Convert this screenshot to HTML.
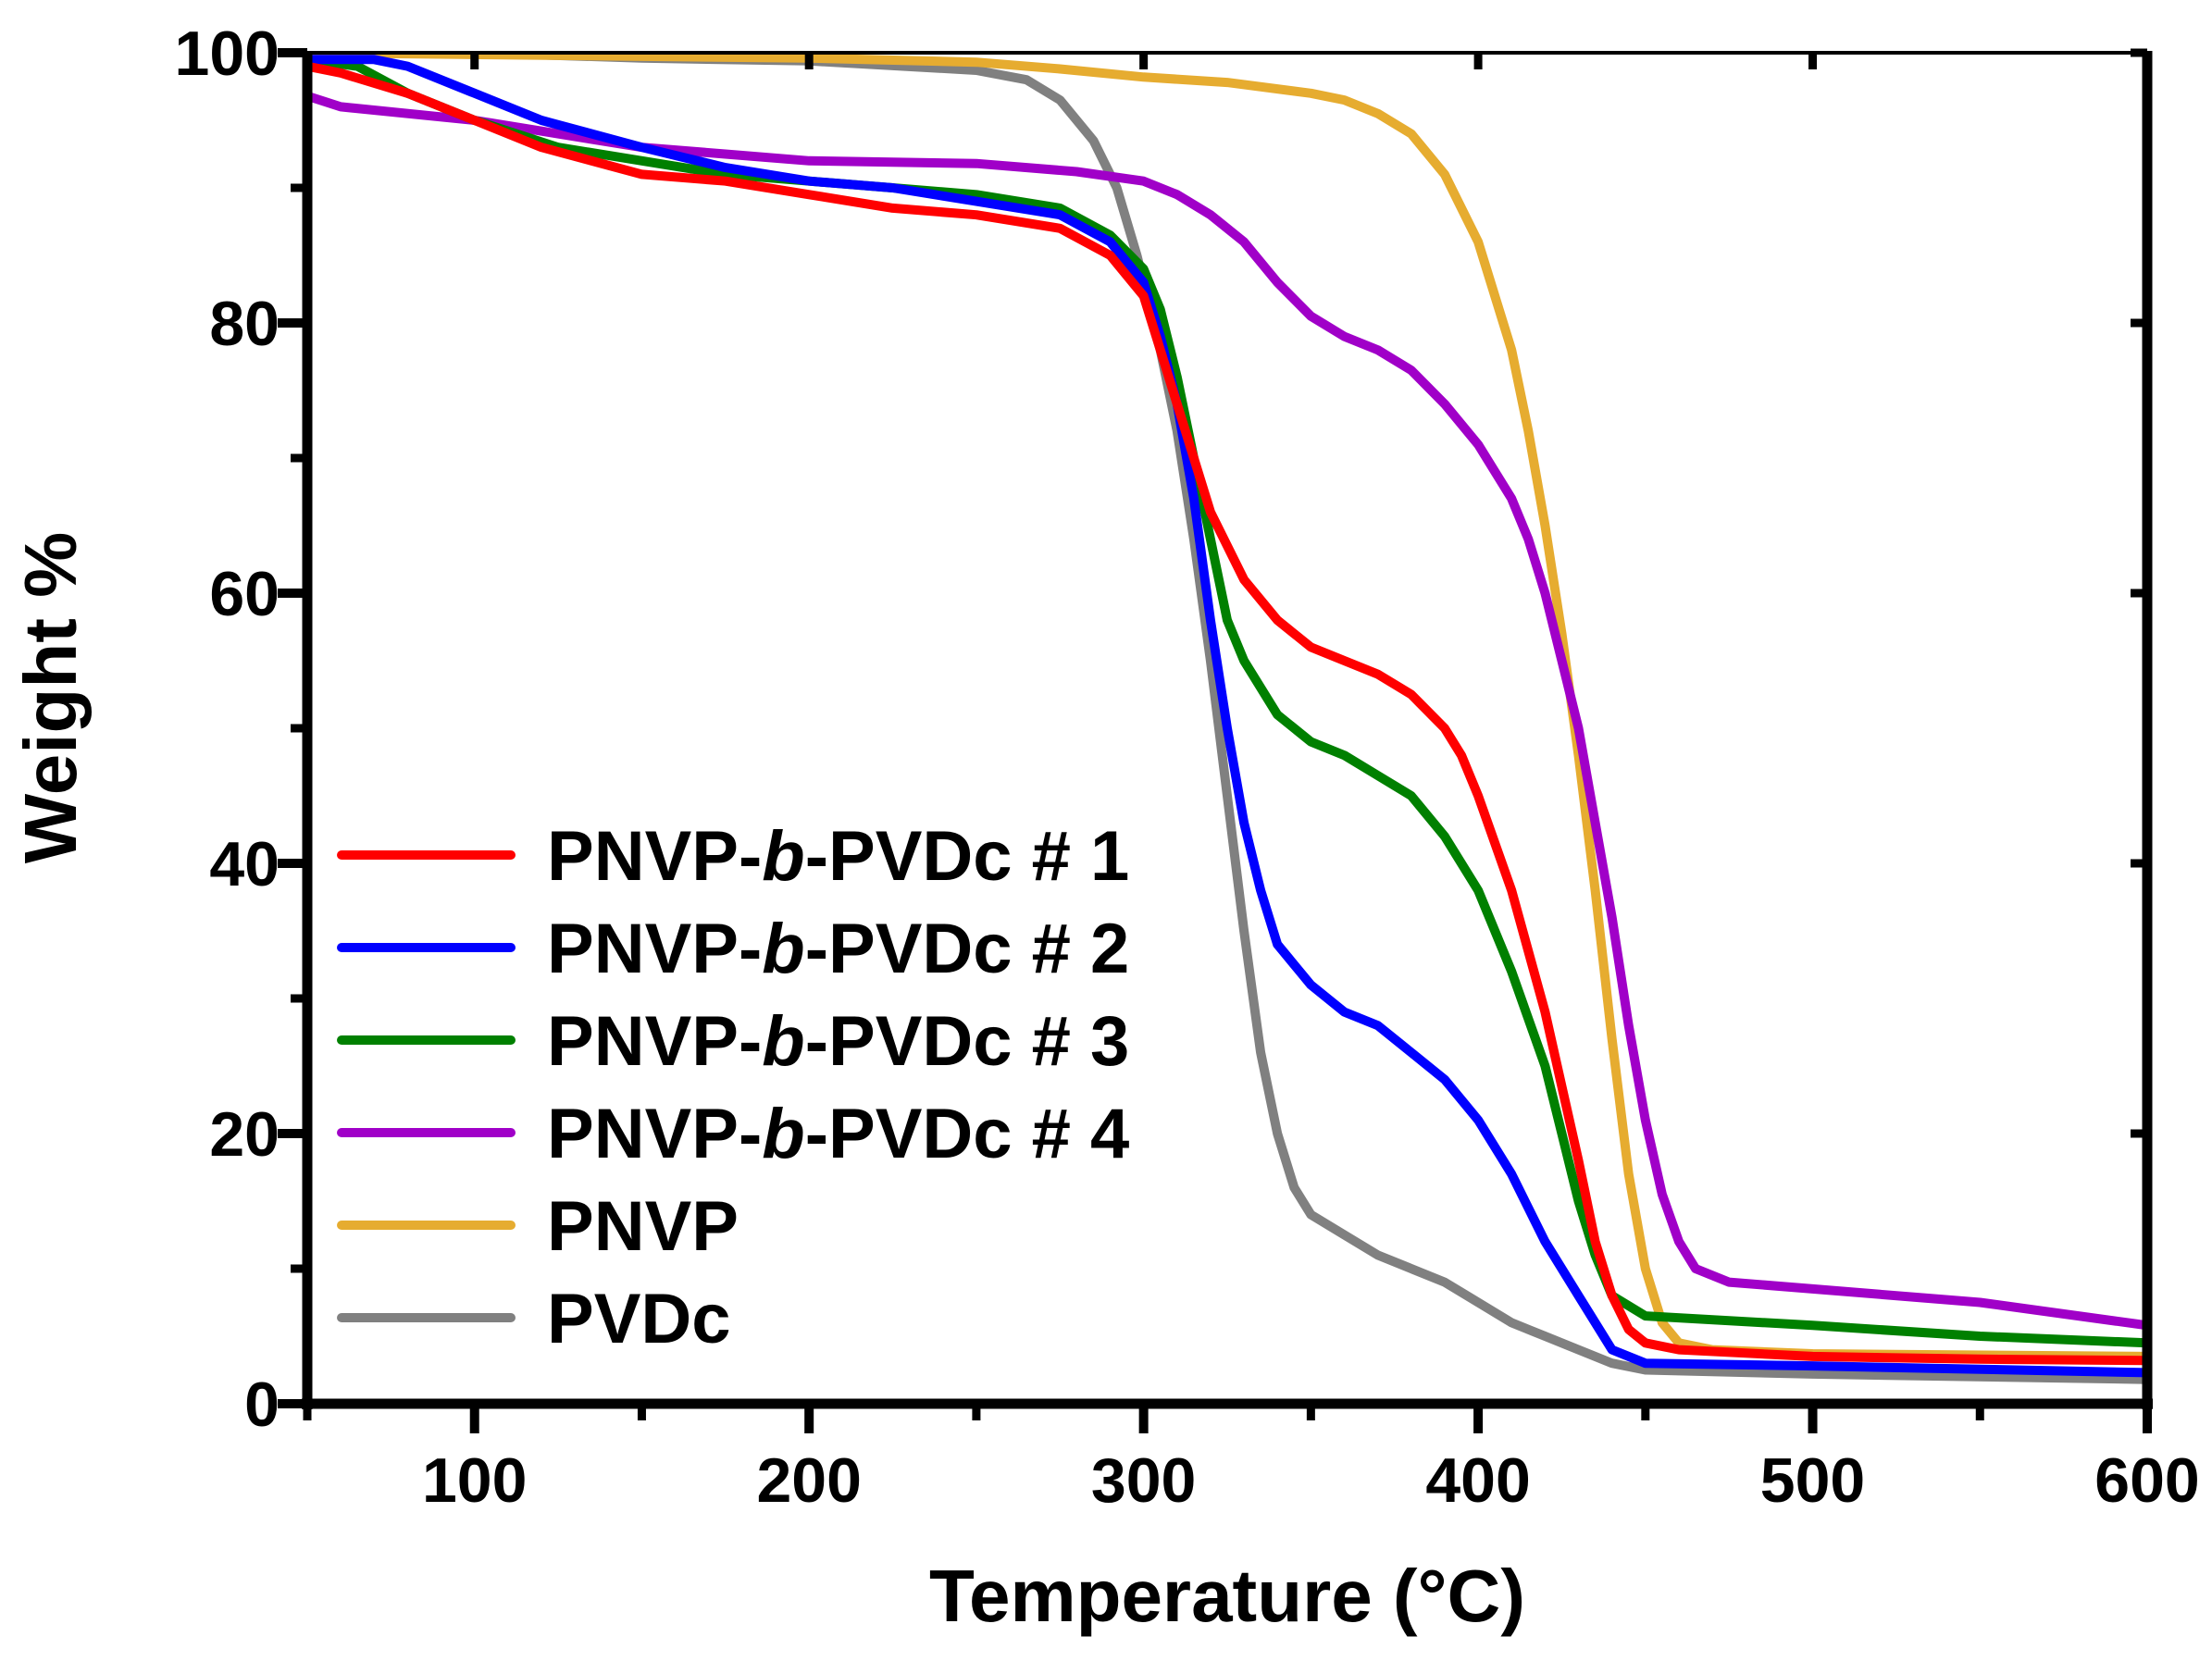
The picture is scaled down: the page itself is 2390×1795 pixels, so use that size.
<!DOCTYPE html>
<html><head><meta charset="utf-8"><style>
html,body{margin:0;padding:0;background:#fff;}
svg{display:block;font-family:"Liberation Sans",Arial,sans-serif;font-weight:bold;}
</style></head><body>
<svg id="chart" width="2390" height="1795" viewBox="0 0 2390 1795" xmlns="http://www.w3.org/2000/svg">
<defs><clipPath id="clip"><rect x="332" y="57" width="1988" height="1460"/></clipPath></defs>
<g id="curves" clip-path="url(#clip)"></g>
<g id="axes"></g>
<g id="legend"></g>
<text x="1326" y="1752" font-size="80" text-anchor="middle">Temperature (°C)</text>
<text transform="translate(82,754) rotate(-90)" font-size="80" text-anchor="middle">Weight %</text>
</svg>
<script>
const xTicks = [100,200,300,400,500,600];
const yTicks = [0,20,40,60,80,100];
const seriesNames = ["PNVP-b-PVDc # 1","PNVP-b-PVDc # 2","PNVP-b-PVDc # 3","PNVP-b-PVDc # 4","PNVP","PVDc"];
const s1 = [[50,99],[60,98.5],[80,97],[100,95],[120,93],[150,91],[175,90.5],[200,89.5],[225,88.5],[250,88],[275,87],[290,85],[300,82],[305,78],[310,74],[315,70],[320,66],[330,61],[340,58],[350,56],[360,55],[370,54],[380,52.5],[390,50],[395,48],[400,45],[410,38],[420,29],[430,18],[435,12],[440,8],[445,5.5],[450,4.5],[460,4],[500,3.5],[550,3.3],[600,3.2]];
const s2 = [[50,99.5],[70,99.5],[80,99],[100,97],[120,95],[150,93],[175,91.5],[200,90.5],[225,90],[250,89],[275,88],[290,86],[300,83],[305,79],[310,74],[315,67],[320,58],[325,50],[330,43],[335,38],[340,34],[350,31],[360,29],[370,28],[380,26],[390,24],[400,21],[410,17],[420,12],[430,8],[440,4],[450,3],[500,2.8],[600,2.3]];
const s3 = [[50,99.5],[65,99],[80,97],[100,95],[125,93],[150,92],[175,91],[200,90.5],[225,90],[250,89.5],[275,88.5],[290,86.5],[300,84],[305,81],[310,76],[315,70],[320,64],[325,58],[330,55],[340,51],[350,49],[360,48],[370,46.5],[380,45],[390,42],[400,38],[410,32],[420,25],[425,20],[430,15],[435,11],[440,8],[450,6.5],[500,5.8],[550,5],[600,4.5]];
const s4 = [[50,96.8],[60,96],[100,95],[150,93],[175,92.5],[200,92],[250,91.8],[280,91.2],[300,90.5],[310,89.5],[320,88],[330,86],[340,83],[350,80.5],[360,79],[370,78],[380,76.5],[390,74],[400,71],[410,67],[415,64],[420,60],[425,55],[430,50],[435,43],[440,36],[445,28],[450,21],[455,15.5],[460,12],[465,10],[475,9],[500,8.5],[550,7.5],[600,5.8]];
const s5 = [[50,100],[200,99.6],[250,99.3],[275,98.8],[300,98.2],[325,97.8],[350,97],[360,96.5],[370,95.5],[380,94],[390,91],[400,86],[410,78],[415,72],[420,65],[425,57],[430,48],[435,38],[440,27],[445,17],[450,10],[455,6],[460,4.5],[470,4],[500,3.7],[600,3.5]];
const s6 = [[50,100],[100,100],[150,99.6],[200,99.4],[250,98.7],[265,98],[275,96.5],[285,93.5],[292,90],[298,85],[305,78],[310,72],[315,64],[320,55],[325,45],[330,35],[335,26],[340,20],[345,16],[350,14],[360,12.5],[370,11],[380,10],[390,9],[400,7.5],[410,6],[420,5],[430,4],[440,3],[450,2.5],[500,2.2],[600,1.8]];

const colors = ["#ff0000","#0000ff","#008000","#a000c8","#e6ac30","#808080"];
const allSeries = [s1,s2,s3,s4,s5,s6];
const NS = "http://www.w3.org/2000/svg";
const X0=332, X1=2320, Y0=1517, Y1=57;
function xs(t){return X0+(t-50)*(X1-X0)/550;}
function ys(v){return Y0-v*(Y0-Y1)/100;}
function mk(tag, attrs, parent){const e=document.createElementNS(NS,tag);for(const k in attrs)e.setAttribute(k,attrs[k]);parent.appendChild(e);return e;}

const curves=document.getElementById('curves');
[5,4,3,2,1,0].forEach(i=>{
  const d=allSeries[i].map((p,j)=>(j?'L':'M')+xs(p[0]).toFixed(1)+' '+ys(p[1]).toFixed(1)).join(' ');
  const p=mk('path',{d:d,fill:'none',stroke:colors[i],'stroke-width':10,'stroke-linejoin':'round'},curves);
  
  
});

const axes=document.getElementById('axes');
const fr=mk('rect',{x:X0,y:Y1,width:X1-X0,height:Y0-Y1,fill:'none',stroke:'#000','stroke-width':4},axes);


const la=mk('line',{x1:X0,y1:Y1-2,x2:X0,y2:Y0+6,stroke:'#000','stroke-width':11},axes);


const ba=mk('line',{x1:X0-6,y1:Y0,x2:X1+6,y2:Y0,stroke:'#000','stroke-width':11},axes);


const ra=mk('line',{x1:X1,y1:Y1-2,x2:X1,y2:Y0+6,stroke:'#000','stroke-width':11},axes);



xTicks.forEach(t=>{
  const x=xs(t);
  const tk=mk('line',{x1:x,y1:Y0,x2:x,y2:Y0+32,stroke:'#000','stroke-width':10},axes);
  
  
  mk('line',{x1:x,y1:Y1,x2:x,y2:Y1+18,stroke:'#000','stroke-width':9},axes);
  const m=xs(t-50);
  if(t-50>=50){mk('line',{x1:m,y1:Y0,x2:m,y2:Y0+18,stroke:'#000','stroke-width':9},axes);}
  const lb=mk('text',{x:x,y:1623,'font-size':68,'text-anchor':'middle'},axes);
  lb.textContent=t;
  
  
});
yTicks.forEach(v=>{
  const y=ys(v);
  const tk=mk('line',{x1:X0-32,y1:y,x2:X0,y2:y,stroke:'#000','stroke-width':10},axes);
  
  
  mk('line',{x1:X1,y1:y,x2:X1-18,y2:y,stroke:'#000','stroke-width':9},axes);
  if(v<100){const m=ys(v+10);mk('line',{x1:X0-18,y1:m,x2:X0,y2:m,stroke:'#000','stroke-width':9},axes);}
  const lb=mk('text',{x:302,y:y+24,'font-size':68,'text-anchor':'end'},axes);
  lb.textContent=v;
  
  
});

const leg=document.getElementById('legend');
seriesNames.forEach((n,i)=>{
  const y=924+i*100;
  const ln=mk('line',{x1:369,y1:y,x2:552,y2:y,stroke:colors[i],'stroke-width':10,'stroke-linecap':'round'},leg);
  
  
  const tx=mk('text',{x:591,y:y+27,'font-size':76},leg);
  
  
  if(n.indexOf('-b-')>=0){
    const parts=n.split('-b-');
    const a=document.createElementNS(NS,'tspan');a.textContent=parts[0]+'-';tx.appendChild(a);
    const b=document.createElementNS(NS,'tspan');b.setAttribute('font-style','italic');b.textContent='b';tx.appendChild(b);
    const c=document.createElementNS(NS,'tspan');c.textContent='-'+parts[1];tx.appendChild(c);
  } else tx.textContent=n;
});
</script>
</body></html>
